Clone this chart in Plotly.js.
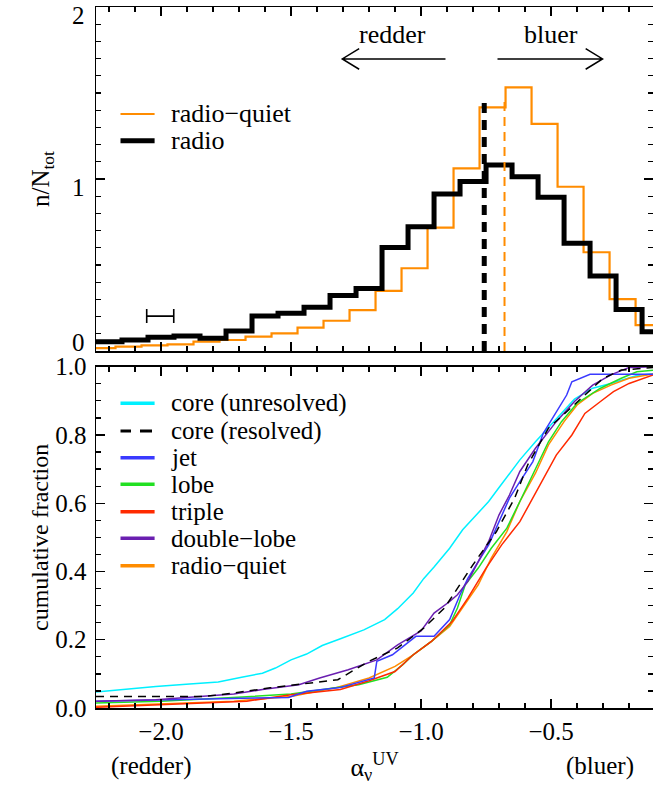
<!DOCTYPE html>
<html>
<head>
<meta charset="utf-8">
<script src="https://cdn.plot.ly/plotly-3.0.1.min.js"></script>
<style>html,body{margin:0;padding:0;background:#fff;}</style>
</head>
<body>
<div id="chart" style="width:653px;height:788px;"></div>
<script>
// ---------- DATA: top panel histograms (n/N_tot) ----------
const rqEdges = [-2.275,-2.175,-2.075,-1.975,-1.875,-1.775,-1.675,-1.575,-1.475,-1.375,-1.275,-1.175,-1.075,-0.975,-0.875,-0.775,-0.675,-0.575,-0.475,-0.375,-0.275,-0.175,-0.075];
const rqHist  = [0.017,0.025,0.033,0.039,0.054,0.064,0.083,0.103,0.136,0.176,0.238,0.349,0.481,0.717,1.062,1.417,1.533,1.320,0.955,0.574,0.302,0.151];
const radioEdges = [-2.25,-2.15,-2.05,-1.95,-1.85,-1.75,-1.65,-1.55,-1.45,-1.35,-1.25,-1.15,-1.05,-0.95,-0.85,-0.75,-0.65,-0.55,-0.45,-0.35,-0.25,-0.15,-0.05];
const radioHist  = [0.054,0.064,0.080,0.087,0.074,0.116,0.203,0.219,0.254,0.322,0.364,0.602,0.723,0.913,0.985,1.081,1.013,0.894,0.626,0.436,0.242,0.112];
const medianRadio = -0.757;
const medianRQ = -0.679;
const medianTop = 1.48;
const errBarX = -2.003, errBarY = 0.203, errBarHalf = 0.052;
const topTickVals = [0, 1, 2];
const topTickText = ['0', '1', '2'];

// ---------- DATA: bottom panel cumulative fractions ----------
const coreUnresX = [-2.25,-2.15,-2.02,-1.89,-1.78,-1.69,-1.61,-1.56,-1.50,-1.44,-1.38,-1.31,-1.22,-1.14,-1.09,-1.03,-0.99,-0.95,-0.89,-0.84,-0.78,-0.74,-0.70,-0.66,-0.62,-0.56,-0.49,-0.41,-0.34,-0.27,-0.17,-0.10];
const coreUnresY = [0.047,0.054,0.063,0.070,0.076,0.090,0.102,0.117,0.141,0.158,0.183,0.203,0.229,0.259,0.291,0.337,0.379,0.413,0.468,0.522,0.571,0.605,0.646,0.688,0.727,0.780,0.839,0.905,0.937,0.951,0.974,0.980];
const coreResX = [-2.25,-1.83,-1.72,-1.58,-1.32,-1.20,-1.09,-0.99,-0.91,-0.80,-0.71,-0.64,-0.59,-0.51,-0.44,-0.37,-0.30,-0.23,-0.10];
const coreResY = [0.034,0.034,0.044,0.059,0.083,0.137,0.176,0.234,0.293,0.420,0.517,0.615,0.712,0.820,0.868,0.917,0.966,0.990,0.998];
const jetX = [-2.25,-1.51,-1.44,-1.31,-1.18,-1.17,-1.11,-1.06,-1.02,-0.95,-0.89,-0.85,-0.82,-0.78,-0.74,-0.70,-0.66,-0.62,-0.57,-0.53,-0.49,-0.44,-0.42,-0.35,-0.10];
const jetY = [0.020,0.031,0.049,0.060,0.088,0.137,0.156,0.185,0.210,0.210,0.259,0.332,0.380,0.429,0.478,0.546,0.615,0.663,0.722,0.805,0.854,0.917,0.956,0.978,0.978];
const lobeX = [-2.25,-2.00,-1.76,-1.50,-1.33,-1.24,-1.13,-1.07,-1.03,-0.96,-0.89,-0.86,-0.83,-0.78,-0.73,-0.67,-0.62,-0.56,-0.51,-0.46,-0.40,-0.31,-0.23,-0.17,-0.10];
const lobeY = [0.015,0.020,0.029,0.041,0.059,0.068,0.090,0.127,0.156,0.195,0.244,0.293,0.361,0.410,0.468,0.527,0.605,0.702,0.780,0.839,0.893,0.937,0.966,0.985,0.990];
const tripleX = [-2.25,-2.00,-1.67,-1.50,-1.31,-1.20,-1.10,-1.03,-0.96,-0.88,-0.82,-0.75,-0.69,-0.62,-0.55,-0.48,-0.42,-0.37,-0.31,-0.26,-0.20,-0.10];
const tripleY = [0.002,0.010,0.020,0.039,0.054,0.080,0.107,0.156,0.195,0.254,0.322,0.410,0.478,0.546,0.644,0.741,0.800,0.863,0.898,0.927,0.951,0.978];
const dblLobeX = [-2.25,-2.02,-1.72,-1.61,-1.47,-1.39,-1.28,-1.17,-1.09,-1.00,-0.95,-0.89,-0.86,-0.82,-0.78,-0.74,-0.70,-0.66,-0.62,-0.56,-0.48,-0.41,-0.34,-0.27,-0.20,-0.10];
const dblLobeY = [0.020,0.024,0.041,0.054,0.068,0.088,0.112,0.141,0.185,0.226,0.278,0.312,0.332,0.371,0.429,0.488,0.566,0.624,0.693,0.761,0.839,0.898,0.946,0.976,0.998,1.000];
const rqCumX = [-2.25,-2.00,-1.72,-1.50,-1.33,-1.20,-1.10,-1.03,-0.96,-0.89,-0.84,-0.78,-0.73,-0.67,-0.62,-0.56,-0.51,-0.45,-0.40,-0.34,-0.27,-0.20,-0.10];
const rqCumY = [0.005,0.012,0.020,0.034,0.059,0.088,0.122,0.156,0.195,0.239,0.293,0.361,0.439,0.517,0.605,0.688,0.771,0.839,0.888,0.922,0.946,0.966,0.980];

const cumNames  = ['core (unresolved)','core (resolved)','jet','lobe','triple','double\u2212lobe','radio\u2212quiet'];
const cumColors = ['#00f0ff','#000000','#3a3aff','#22e022','#ff2a00','#6a1fb0','#ff8c00'];
const cumDash   = ['solid','dash','solid','solid','solid','solid','solid'];
const topNames  = ['radio\u2212quiet','radio'];
const topColors = ['#ff8c00','#000000'];

// ---------- build ----------
const FONT = 'Liberation Serif, Times New Roman, serif';
function stepXY(edges, h){ return {x: edges.slice(), y: h.concat([h[h.length-1]])}; }
const rqStep = stepXY(rqEdges, rqHist);
const radioStep = stepXY(radioEdges, radioHist);

const cumX = [coreUnresX, coreResX, jetX, lobeX, tripleX, dblLobeX, rqCumX];
const cumY = [coreUnresY, coreResY, jetY, lobeY, tripleY, dblLobeY, rqCumY];
const drawOrder = [0,6,3,4,2,5,1];

const traces = [];
traces.push({x: rqStep.x, y: rqStep.y, xaxis:'x2', yaxis:'y2', mode:'lines', line:{shape:'hv', color:topColors[0], width:2.2}, name:topNames[0], hoverinfo:'skip'});
traces.push({x: radioStep.x, y: radioStep.y, xaxis:'x2', yaxis:'y2', mode:'lines', line:{shape:'hv', color:topColors[1], width:5}, name:topNames[1], hoverinfo:'skip'});
traces.push({x:[medianRadio, medianRadio], y:[0, medianTop], xaxis:'x2', yaxis:'y2', mode:'lines', line:{color:'#000', width:5, dash:'10px,7px'}, name:'median radio'});
traces.push({x:[medianRQ, medianRQ], y:[0, medianTop], xaxis:'x2', yaxis:'y2', mode:'lines', line:{color:'#ff8c00', width:2, dash:'9px,6px'}, name:'median radio-quiet'});
traces.push({x:[errBarX], y:[errBarY], xaxis:'x2', yaxis:'y2', mode:'markers', marker:{size:1, color:'rgba(0,0,0,0)'}, error_x:{type:'constant', value:errBarHalf, color:'#000', thickness:1.6, width:7}, name:'typical error'});

drawOrder.forEach(i => {
  traces.push({x: cumX[i], y: cumY[i], xaxis:'x', yaxis:'y', mode:'lines',
    line:{color:cumColors[i], width:1.5, dash: cumDash[i]==='dash' ? '8px,6px' : 'solid'}, name:cumNames[i], hoverinfo:'skip'});
});

const L = 96, W = 557, T = 7, H = 701, B = T + H;
const px = v => (v - L) / W;
const py = v => (B - v) / H;

const shapes = [];
const annotations = [];

// top panel y tick labels (end labels kept inside the axis span, as in the original)
const topLabelShift = [0.047, -0.047, -0.052];
topTickVals.forEach((v, k) => {
  annotations.push({xref:'paper', yref:'y2', x:px(87), y:v + topLabelShift[k], xanchor:'right', yanchor:'middle', text:topTickText[k], showarrow:false, font:{size:25}});
});

// arrows (top panel)
shapes.push({type:'path', xref:'x2', yref:'y2', path:'M-0.906,1.698 L-1.303,1.698 M-1.238,1.758 L-1.303,1.698 L-1.238,1.638', line:{color:'#000', width:1.5}});
shapes.push({type:'path', xref:'x2', yref:'y2', path:'M-0.706,1.698 L-0.302,1.698 M-0.367,1.758 L-0.302,1.698 L-0.367,1.638', line:{color:'#000', width:1.5}});
annotations.push({xref:'x2', yref:'y2', x:-1.108, y:1.839, xanchor:'center', yanchor:'middle', text:'redder', showarrow:false, font:{size:26}});
annotations.push({xref:'x2', yref:'y2', x:-0.502, y:1.839, xanchor:'center', yanchor:'middle', text:'bluer', showarrow:false, font:{size:26}});

// legends (manual, to reproduce the tight spacing of the original)
const topRows = [114, 140.7];
const topWidths = [2.2, 5];
topNames.forEach((n, k) => {
  shapes.push({type:'line', xref:'paper', yref:'paper', x0:px(120.5), x1:px(154.6), y0:py(topRows[k]), y1:py(topRows[k]), line:{color:topColors[k], width:topWidths[k]}});
  annotations.push({xref:'paper', yref:'paper', x:px(170), y:py(topRows[k]), xanchor:'left', yanchor:'middle', borderpad:0, text:n, showarrow:false, font:{size:26}});
});
const botRows = [403.3, 431, 457.7, 484.3, 511.7, 538.3, 565.7];
cumNames.forEach((n, k) => {
  if (cumDash[k] === 'dash') {
    shapes.push({type:'line', xref:'paper', yref:'paper', x0:px(120.5), x1:px(131), y0:py(botRows[k]), y1:py(botRows[k]), line:{color:cumColors[k], width:3}});
    shapes.push({type:'line', xref:'paper', yref:'paper', x0:px(140), x1:px(152), y0:py(botRows[k]), y1:py(botRows[k]), line:{color:cumColors[k], width:3}});
  } else {
    shapes.push({type:'line', xref:'paper', yref:'paper', x0:px(120.5), x1:px(154.6), y0:py(botRows[k]), y1:py(botRows[k]), line:{color:cumColors[k], width:3.5}});
  }
  annotations.push({xref:'paper', yref:'paper', x:px(170), y:py(botRows[k]), xanchor:'left', yanchor:'middle', borderpad:0, text:n, showarrow:false, font:{size:25}});
});

annotations.push({xref:'paper', yref:'paper', x:px(151), y:py(766), xanchor:'center', yanchor:'middle', text:'(redder)', showarrow:false, font:{size:25}});
annotations.push({xref:'paper', yref:'paper', x:px(600), y:py(766), xanchor:'center', yanchor:'middle', text:'(bluer)', showarrow:false, font:{size:25}});

const axBase = {
  showline:true, linecolor:'#000', linewidth:1.5, mirror:'ticks', showgrid:false, zeroline:false,
  ticks:'inside', ticklen:9, tickwidth:1.3, tickcolor:'#000', tickfont:{size:25}
};
const layout = {
  width:653, height:788,
  margin:{l:L, r:0, t:T, b:788-B},
  paper_bgcolor:'#fff', plot_bgcolor:'#fff',
  showlegend:false,
  font:{family:FONT, size:24, color:'#000'},
  xaxis: Object.assign({}, axBase, {
    anchor:'y', domain:[0,1], range:[-2.25,-0.108],
    tickmode:'linear', tick0:0, dtick:0.5, tickformat:'.1f',
    minor:{tickmode:'linear', tick0:0, dtick:0.1, ticks:'inside', ticklen:5, tickwidth:1.3, tickcolor:'#000'},
    ticklabelstandoff:0,
    title:{text:'\u03b1<sub>\u03bd</sub><sup>UV</sup>', standoff:14, font:{size:26}}
  }),
  yaxis: Object.assign({}, axBase, {
    anchor:'x', domain:[0, py(366.7)], range:[0,1],
    tickmode:'linear', tick0:0, dtick:0.2, tickformat:'.1f',
    minor:{tickmode:'linear', tick0:0, dtick:0.05, ticks:'inside', ticklen:5, tickwidth:1.3, tickcolor:'#000'},
    ticklabelstandoff:3,
    title:{text:'cumulative fraction', standoff:0, font:{size:24}}
  }),
  xaxis2: Object.assign({}, axBase, {
    anchor:'y2', matches:'x', domain:[0,1], range:[-2.25,-0.108],
    tickmode:'linear', tick0:0, dtick:0.5, showticklabels:false,
    minor:{tickmode:'linear', tick0:0, dtick:0.1, ticks:'inside', ticklen:5, tickwidth:1.3, tickcolor:'#000'}
  }),
  yaxis2: Object.assign({}, axBase, {
    anchor:'x2', domain:[py(351), 1], range:[0,2],
    tickmode:'array', tickvals:topTickVals, showticklabels:false,
    minor:{tickmode:'linear', tick0:0, dtick:0.1, ticks:'inside', ticklen:5, tickwidth:1.3, tickcolor:'#000'},
    title:{text:'n/N<sub>tot</sub>', standoff:38, font:{size:25}}
  }),
  shapes: shapes,
  annotations: annotations
};

Plotly.newPlot('chart', traces, layout, {staticPlot:true, displayModeBar:false});
</script>
</body>
</html>
